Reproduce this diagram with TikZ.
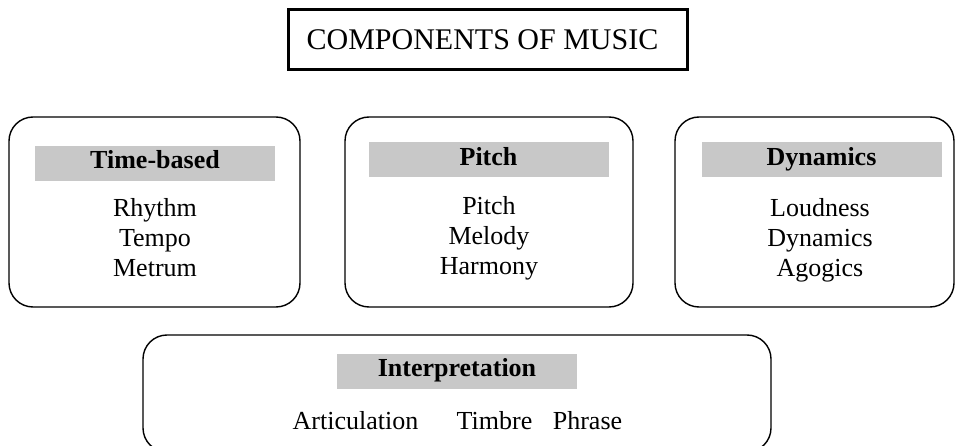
\documentclass[tikz,border=0pt]{standalone}
\usepackage{fontspec}
\setmainfont{Liberation Serif}
\definecolor{bargray}{RGB}{200,200,200}
\begin{document}
\begin{tikzpicture}[x=1pt,y=-1pt,
  group/.style={draw=black, line width=1.4pt, rounded corners=24pt, inner sep=0pt},
  bar/.style={fill=bargray, inner sep=0pt, minimum width=240pt, minimum height=35pt,
              text height=18pt, text depth=7pt, font=\fontsize{26}{30}\selectfont\bfseries},
  item/.style={anchor=base, inner sep=0pt, font=\fontsize{26}{30}\selectfont},
]
\useasboundingbox (0,0) rectangle (956,446);
% title
\node[draw=black, line width=3pt, minimum width=399pt, minimum height=60pt, inner sep=0pt,
      font=\fontsize{30}{36}\selectfont] (title) at (487.5,40) {COMPONENTS OF MUSIC\hspace*{10pt}};
% group boxes
\node[group, minimum width=291pt, minimum height=190pt] (time) at (154.5,212) {};
\node[group, minimum width=288pt, minimum height=190pt] (pitch) at (489,212) {};
\node[group, minimum width=279pt, minimum height=190pt] (dyn) at (814.5,212) {};
\node[group, minimum width=628pt, minimum height=117pt] (interp) at (457,393.5) {};
% header bars
\node[bar] (timeh) at (155,163.5) {Time-based};
\node[bar] (pitchh) at (488.5,160) {Pitch};
\node[bar] (dynh) at (821.5,160) {Dynamics};
\node[bar] (interph) at (457,371.5) {Interpretation};
% items
\node[item] (t1) at (155,217) {Rhythm};
\node[item] (t2) at (155,247) {Tempo};
\node[item] (t3) at (155,277) {Metrum};
\node[item] (p1) at (489,215) {Pitch};
\node[item] (p2) at (489,245) {Melody};
\node[item] (p3) at (489,275) {Harmony};
\node[item] (d1) at (820,217) {Loudness};
\node[item] (d2) at (820,247) {Dynamics};
\node[item] (d3) at (820,277) {Agogics};
\node[item] (i1) at (355.5,429) {Articulation};
\node[item] (i2) at (494.5,429) {Timbre};
\node[item] (i3) at (587.5,429) {Phrase};
\end{tikzpicture}
\end{document}
